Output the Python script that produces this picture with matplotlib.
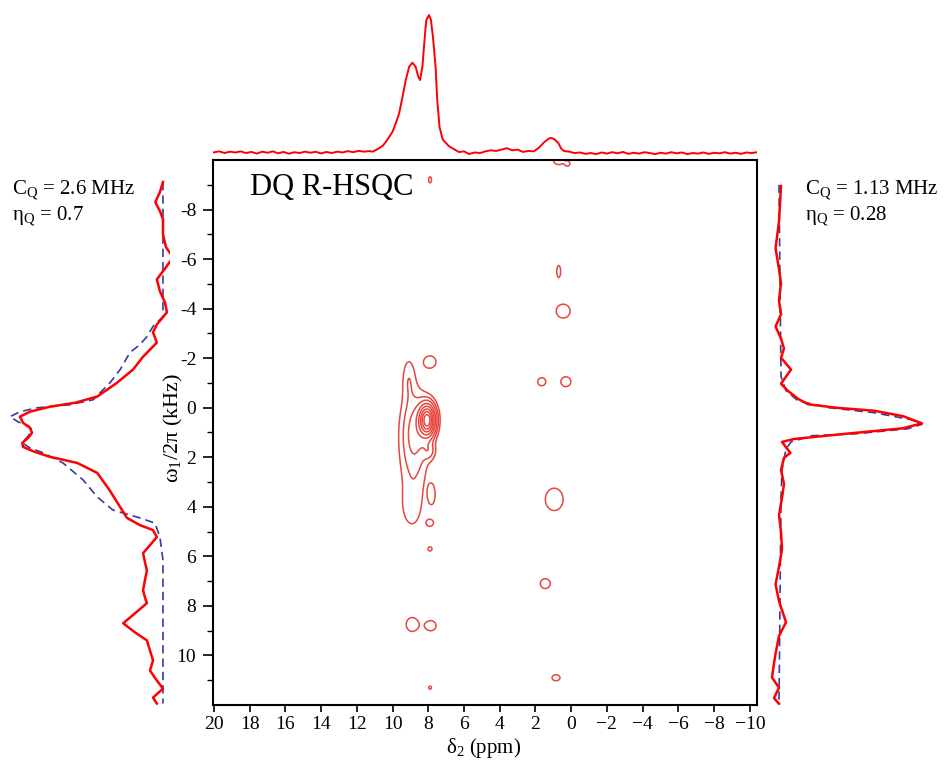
import numpy as np
import matplotlib
matplotlib.use("Agg")
import matplotlib.pyplot as plt
from matplotlib.ticker import FixedLocator

plt.rcParams['font.family'] = ['Liberation Serif', 'DejaVu Serif']
plt.rcParams['mathtext.fontset'] = 'custom'
plt.rcParams['mathtext.rm'] = 'Liberation Serif'
plt.rcParams['mathtext.it'] = 'Liberation Serif:italic'

# ---------------- data ----------------
# top projection (delta2 ppm, normalised intensity)
top_ppm = [20.0, 19.7, 19.4, 19.1, 18.8, 18.5, 18.2, 17.9, 17.6, 17.3, 17.0, 16.7, 16.4, 16.1,
           15.8, 15.5, 15.2, 14.9, 14.6, 14.3, 14.0, 13.7, 13.4, 13.1, 12.8, 12.5, 12.2, 11.9,
           11.6, 11.3, 11.11, 10.83, 10.56, 10.37, 10.18, 10.0, 9.82, 9.63, 9.44, 9.26, 9.07,
           8.89, 8.71, 8.56, 8.46, 8.33, 8.24, 8.18, 8.11, 7.96, 7.85, 7.74, 7.59, 7.50, 7.37,
           7.20, 7.06, 6.85, 6.67, 6.45, 6.28, 6.0, 5.72, 5.4, 5.1, 4.8, 4.5, 4.2, 3.9, 3.6,
           3.3, 3.0, 2.7, 2.4, 2.1, 1.83, 1.5, 1.25, 1.11, 0.94, 0.72, 0.55, 0.39, 0.1, -0.17,
           -0.5, -0.8, -1.1, -1.4, -1.7, -2.0, -2.3, -2.6, -2.9, -3.2, -3.5, -3.8, -4.1, -4.4,
           -4.7, -5.0, -5.3, -5.6, -5.9, -6.2, -6.5, -6.8, -7.1, -7.4, -7.7, -8.0, -8.3, -8.6,
           -8.9, -9.2, -9.5, -9.8, -10.1, -10.4]
top_int = [0.005, 0.012, 0.0, 0.010, 0.004, 0.012, 0.0, 0.008, -0.004, 0.010, 0.002, 0.012,
           -0.002, 0.008, -0.005, 0.006, 0.0, 0.010, 0.002, 0.009, -0.003, 0.008, 0.0, 0.010,
           0.004, 0.014, 0.006, 0.016, 0.010, 0.014, 0.010, 0.029, 0.051, 0.082, 0.118, 0.154,
           0.215, 0.288, 0.408, 0.529, 0.625, 0.655, 0.625, 0.553, 0.529, 0.625, 0.77, 0.867,
           0.964, 1.0, 0.964, 0.843, 0.625, 0.384, 0.19, 0.10, 0.08, 0.05, 0.036, 0.02, 0.007,
           0.012, -0.007, 0.004, 0.0, 0.012, 0.02, 0.015, 0.025, 0.035, 0.02, 0.025, 0.008,
           0.015, 0.012, 0.036, 0.08, 0.105, 0.109, 0.10, 0.072, 0.03, 0.014, 0.01, 0.0,
           0.004, -0.006, 0.0, -0.008, 0.004, -0.004, 0.006, -0.002, 0.008, -0.006, 0.002,
           -0.004, 0.006, 0.0, -0.008, 0.002, -0.004, 0.006, -0.002, 0.004, -0.008, 0.0,
           -0.004, 0.004, -0.006, 0.002, -0.002, 0.006, -0.004, 0.002, -0.006, 0.004, 0.0, 0.006]

# left projection (omega1 kHz, intensity), experiment and simulation
left_exp_khz = [-9.11, -8.70, -8.30, -7.94, -7.61, -7.00, -6.48, -6.07, -5.67, -5.18, -4.70,
                -4.25, -3.85, -3.36, -3.04, -2.63, -2.06, -1.54, -1.01, -0.45, -0.20, -0.04,
                0.16, 0.36, 0.61, 0.81, 1.01, 1.21, 1.42, 1.58, 1.78, 1.98, 2.23, 2.63, 3.32,
                4.01, 4.45, 4.74, 4.94, 5.22, 5.55, 5.87, 6.23, 6.56, 6.96, 7.37, 7.65, 7.89,
                8.30, 8.70, 9.07, 9.39, 9.80, 10.20, 10.61, 11.01, 11.34, 11.70, 11.94]
left_exp_int = [0.0, 0.02, 0.05, 0.02, 0.0, 0.0, -0.02, -0.065, -0.02, 0.04, 0.02, -0.013,
                -0.026, 0.04, 0.065, 0.04, 0.13, 0.196, 0.30, 0.43, 0.575, 0.74, 0.87, 0.935,
                0.915, 0.87, 0.856, 0.88, 0.92, 0.915, 0.84, 0.74, 0.56, 0.43, 0.35, 0.28, 0.235,
                0.15, 0.065, 0.04, 0.085, 0.13, 0.118, 0.105, 0.118, 0.13, 0.118, 0.105, 0.183,
                0.26, 0.183, 0.105, 0.085, 0.065, 0.085, 0.04, 0.0, 0.065, 0.04]
left_sim_khz = [-9.11, -3.68, -3.28, -2.87, -2.55, -2.23, -1.54, -1.01, -0.32, -0.12, 0.0,
                0.16, 0.36, 0.57, 0.73, 0.89, 1.13, 1.42, 1.62, 1.82, 2.23, 2.91, 3.60, 4.13,
                4.45, 4.66, 5.22, 6.15, 11.94]
left_sim_int = [0.0, 0.0, 0.065, 0.105, 0.15, 0.216, 0.28, 0.346, 0.457, 0.61, 0.82, 0.935,
                1.0, 0.948, 0.88, 0.856, 0.88, 0.92, 0.87, 0.784, 0.654, 0.523, 0.43, 0.327,
                0.15, 0.052, 0.02, 0.0, 0.0]

# right projection
right_exp_khz = [-8.95, -7.53, -6.44, -5.59, -5.02, -4.33, -3.77, -3.28, -2.79, -2.39, -2.02,
                 -1.54, -0.97, -0.69, -0.36, -0.14, 0.0, 0.12, 0.34, 0.63, 0.83, 1.05, 1.26,
                 1.38, 1.60, 1.82, 2.02, 2.51, 3.08, 3.63, 4.33, 5.02, 5.71, 6.42, 7.13, 7.81,
                 8.66, 9.21, 9.92, 10.32, 10.89, 11.30, 11.72, 11.95]
right_exp_int = [0.014, 0.0, -0.024, 0.0, 0.014, 0.0, 0.014, -0.024, 0.014, 0.035, 0.014,
                 0.084, 0.014, 0.06, 0.133, 0.203, 0.40, 0.664, 0.867, 1.0, 0.867, 0.469, 0.108,
                 0.021, 0.049, 0.08, 0.035, 0.014, 0.035, 0.021, 0.0, 0.014, 0.021, 0.0, -0.024,
                 0.0, 0.049, 0.0, -0.024, -0.035, -0.049, 0.0, -0.035, 0.0]
right_sim_khz = [-9.0, -1.26, -0.69, -0.28, 0.0, 0.20, 0.49, 0.67, 0.85, 1.05, 1.13, 1.38,
                 1.66, 2.51, 3.60, 11.95]
right_sim_int = [0.0, 0.014, 0.049, 0.133, 0.35, 0.664, 0.93, 1.0, 0.90, 0.54, 0.23, 0.084,
                 0.049, 0.021, 0.014, 0.0]

# 2D cross peaks: centre (ppm, kHz), widths (ppm, kHz), amplitude
pk_ppm = [8.05, 8.75, 8.85, 9.10, 8.95, 7.95, 7.90, 7.90, 7.80, 7.90, 7.90, 8.90, 7.85,
          7.90, 0.70, 0.20, 0.70, 0.45, 1.65, 0.30, 0.95, 1.45, 0.85]
pk_khz = [0.50, 0.90, 2.00, -1.20, 4.00, 1.75, -9.20, -1.85, 3.50, 4.65, 5.70, 8.75, 8.80,
          11.30, -9.95, -9.85, -5.50, -3.90, -1.05, -1.05, 3.70, 7.10, 10.90]
pk_wppm = [0.30, 0.50, 0.55, 0.25, 0.40, 0.25, 0.09, 0.36, 0.18, 0.19, 0.12, 0.37, 0.31,
           0.09, 0.30, 0.12, 0.12, 0.43, 0.25, 0.31, 0.55, 0.31, 0.25]
pk_wkhz = [0.42, 1.00, 1.70, 0.60, 0.60, 0.25, 0.135, 0.26, 0.38, 0.135, 0.09, 0.31, 0.22,
           0.07, 0.15, 0.09, 0.27, 0.31, 0.18, 0.22, 0.50, 0.22, 0.135]
pk_amp = [0.95, 0.16, 0.10, 0.09, 0.06, 0.12, 0.09, 0.09, 0.09, 0.09, 0.09, 0.09, 0.09,
          0.09, 0.09, 0.09, 0.09, 0.09, 0.09, 0.09, 0.09, 0.09, 0.09]
levels = [0.06, 0.12, 0.20, 0.32, 0.45, 0.60, 0.75, 0.90]

x_ticks = [20, 18, 16, 14, 12, 10, 8, 6, 4, 2, 0, -2, -4, -6, -8, -10]
x_ticklabels = ['20', '18', '16', '14', '12', '10', '8', '6', '4', '2', '0',
                '\u22122', '\u22124', '\u22126', '\u22128', '\u221210']
y_ticks = [-8, -6, -4, -2, 0, 2, 4, 6, 8, 10]
y_ticklabels = ['-8', '-6', '-4', '-2', '0', '2', '4', '6', '8', '10']
y_minor = [-9, -7, -5, -3, -1, 1, 3, 5, 7, 9, 11]

RED = '#ff0000'
CRED = '#e8463e'
BLUE = '#3a3aa0'

W, H = 944, 765
fig = plt.figure(figsize=(W / 100, H / 100), dpi=100)


def rect(x0, y0, x1, y1):
    return [x0 / W, 1 - y1 / H, (x1 - x0) / W, (y1 - y0) / H]


ax = fig.add_axes(rect(213, 160, 757, 705))
axt = fig.add_axes(rect(213, 8, 757, 158))
axl = fig.add_axes(rect(5, 160, 170, 705))
axr = fig.add_axes(rect(768, 160, 944, 705))

# ---- 2D contour ----
gx = np.linspace(-10.4, 20.05, 700)
gy = np.linspace(-10.0, 12.0, 620)
X, Y = np.meshgrid(gx, gy)
Z = np.zeros_like(X)
for p, k, wp, wk, a in zip(pk_ppm, pk_khz, pk_wppm, pk_wkhz, pk_amp):
    Z += a * np.exp(-0.5 * (((X - p) / wp) ** 2 + ((Y - k) / wk) ** 2))
ax.contour(X, Y, Z, levels=levels, colors=CRED, linewidths=1.1)

ax.set_xlim(20.05, -10.4)
ax.set_ylim(12.0, -10.0)
ax.set_xticks(x_ticks)
ax.set_xticklabels(x_ticklabels, fontsize=14)
ax.set_yticks(y_ticks)
ax.set_yticklabels(y_ticklabels, fontsize=14)
ax.yaxis.set_minor_locator(FixedLocator(y_minor))
ax.tick_params(axis='x', which='major', direction='out', length=5, width=1.2, pad=3)
ax.tick_params(axis='y', which='major', direction='out', length=7, width=1.2, pad=5)
ax.tick_params(axis='y', which='minor', direction='out', length=4, width=1.0)
for s in ax.spines.values():
    s.set_linewidth(1.5)
ax.text(18.0, -8.9, 'DQ R-HSQC', fontsize=22, ha='left', va='center')

fig.text(484 / W, 1 - 748 / H, '\u03b4$_2$ (ppm)', fontsize=15, ha='center', va='center')
fig.text(173 / W, 1 - 428 / H, '\u03c9$_1$/2\u03c0 (kHz)', fontsize=16, ha='center',
         va='center', rotation=90)

# ---- top projection ----
axt.plot(top_ppm, top_int, color=RED, lw=1.4)
axt.set_xlim(20.05, -10.4)
axt.set_ylim(-0.036, 1.051)
axt.axis('off')

# ---- left projection ----
axl.plot(left_sim_int, left_sim_khz, color=BLUE, lw=1.2, ls=(0, (5, 3)))
axl.plot(left_exp_int, left_exp_khz, color=RED, lw=1.8)
axl.set_xlim(1.033, -0.046)
axl.set_ylim(12.0, -10.0)
axl.axis('off')

# ---- right projection ----
axr.plot(right_sim_int, right_sim_khz, color=BLUE, lw=1.2, ls=(0, (5, 3)))
axr.plot(right_exp_int, right_exp_khz, color=RED, lw=1.8)
axr.set_xlim(-0.077, 1.154)
axr.set_ylim(12.0, -10.0)
axr.axis('off')

# ---- annotations ----
fig.text(12 / W, 1 - 194 / H, 'C$_\\mathregular{Q}$ = 2.6 MHz', fontsize=15, va='baseline')
fig.text(12 / W, 1 - 220 / H, '\u03b7$_\\mathregular{Q}$ = 0.7', fontsize=15, va='baseline')
fig.text(805 / W, 1 - 194 / H, 'C$_\\mathregular{Q}$ = 1.13 MHz', fontsize=15, va='baseline')
fig.text(805 / W, 1 - 220 / H, '\u03b7$_\\mathregular{Q}$ = 0.28', fontsize=15, va='baseline')

fig.savefig('out.png', dpi=100)
